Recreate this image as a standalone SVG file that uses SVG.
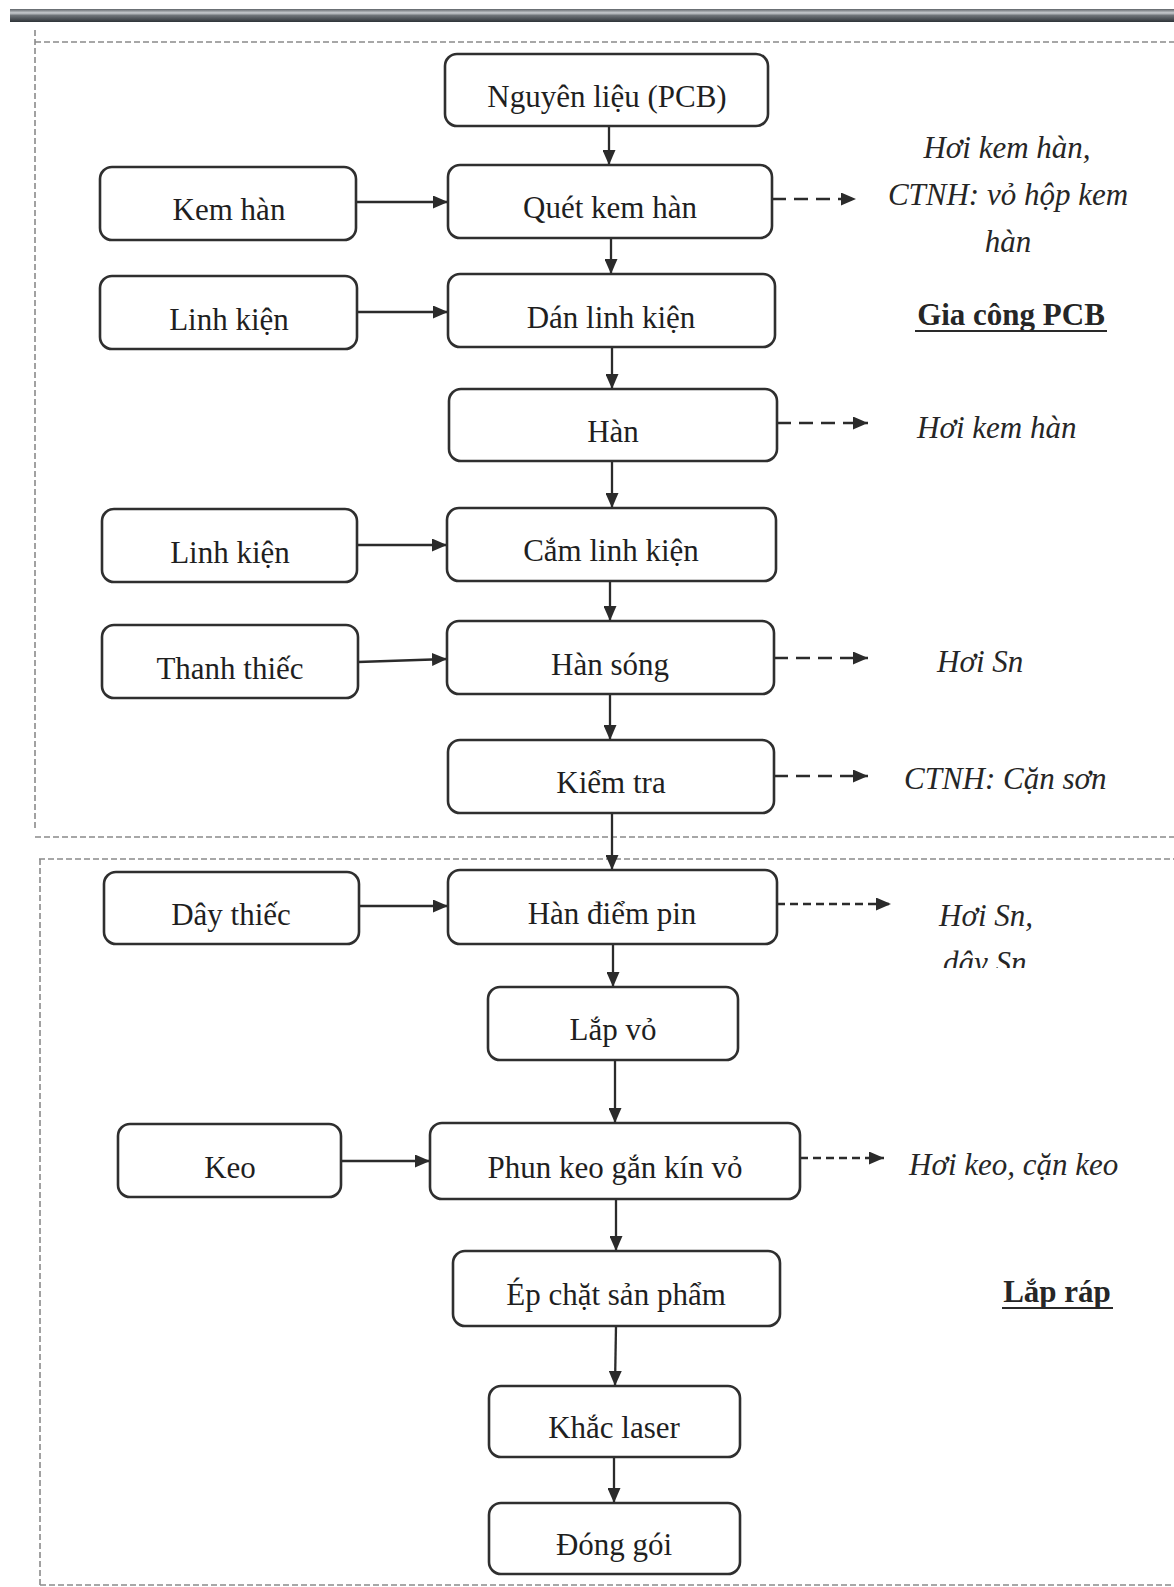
<svg xmlns="http://www.w3.org/2000/svg" width="1174" height="1587" viewBox="0 0 1174 1587">
  <defs>
    <linearGradient id="barGrad" x1="0" y1="0" x2="0" y2="1">
      <stop offset="0" stop-color="#5d6267"/>
      <stop offset="0.3" stop-color="#c9ccd0"/>
      <stop offset="0.5" stop-color="#6e7378"/>
      <stop offset="1" stop-color="#2e3338"/>
    </linearGradient>
    <marker id="arr" viewBox="0 0 15 13" refX="15" refY="6.5" markerWidth="15" markerHeight="13" markerUnits="userSpaceOnUse" orient="auto">
      <path d="M0,0 L15,6.5 L0,13 Z" fill="#2b2b2b"/>
    </marker>
    <clipPath id="clipNote">
      <rect x="900" y="880" width="200" height="88"/>
    </clipPath>
  </defs>
  <style>
    .box { fill: #ffffff; stroke: #2f2f2f; stroke-width: 2.6; }
    .lbl { font-family: "Liberation Serif", "Times New Roman", serif; font-size: 31px; fill: #1f1f1f; text-anchor: middle; }
    .note { font-family: "Liberation Serif", "Times New Roman", serif; font-size: 31px; font-style: italic; fill: #262626; }
    .head { font-family: "Liberation Serif", "Times New Roman", serif; font-size: 31px; font-weight: bold; fill: #262626; text-anchor: middle; }
    .flow { stroke: #2b2b2b; stroke-width: 2.3; fill: none; marker-end: url(#arr); }
    .waste { stroke: #2b2b2b; stroke-width: 2.4; fill: none; marker-end: url(#arr); }
    .frame { stroke: #8a8a8a; stroke-width: 1.6; stroke-dasharray: 6 3; fill: none; }
  </style>

  <rect width="1174" height="1587" fill="#ffffff"/>

  <!-- page header bar -->
  <rect x="10" y="9" width="1164" height="13" fill="url(#barGrad)"/>

  <!-- section frames -->
  <g id="frames">
    <line class="frame" x1="35" y1="42" x2="1174" y2="42"/>
    <line class="frame" x1="35" y1="30" x2="35" y2="830"/>
    <line class="frame" x1="35" y1="837" x2="1174" y2="837"/>
    <line class="frame" x1="39" y1="859" x2="1174" y2="859"/>
    <line class="frame" x1="40" y1="859" x2="40" y2="1587"/>
    <line class="frame" x1="40" y1="1585" x2="1174" y2="1585" stroke="#b5b5b5"/>
  </g>

  <!-- connectors -->
  <g id="connectors">
    <!-- main flow -->
    <line class="flow" x1="609" y1="126" x2="609" y2="165"/>
    <line class="flow" x1="611" y1="238" x2="611" y2="274"/>
    <line class="flow" x1="612" y1="347" x2="612" y2="389"/>
    <line class="flow" x1="612" y1="461" x2="612" y2="508"/>
    <line class="flow" x1="610" y1="581" x2="610" y2="621"/>
    <line class="flow" x1="610" y1="694" x2="610" y2="740"/>
    <line class="flow" x1="612" y1="813" x2="612" y2="870"/>
    <line class="flow" x1="613" y1="944" x2="613" y2="987"/>
    <line class="flow" x1="615" y1="1060" x2="615" y2="1123"/>
    <line class="flow" x1="616" y1="1199" x2="616" y2="1251"/>
    <line class="flow" x1="616" y1="1326" x2="615" y2="1386"/>
    <line class="flow" x1="614" y1="1457" x2="614" y2="1503"/>
    <!-- material inputs -->
    <line class="flow" x1="356" y1="202" x2="448" y2="202"/>
    <line class="flow" x1="357" y1="312" x2="448" y2="312"/>
    <line class="flow" x1="357" y1="545" x2="447" y2="545"/>
    <line class="flow" x1="358" y1="662" x2="447" y2="659"/>
    <line class="flow" x1="359" y1="906" x2="448" y2="906"/>
    <line class="flow" x1="341" y1="1161" x2="430" y2="1161"/>
    <!-- emissions -->
    <line class="waste" x1="772" y1="199" x2="856" y2="199" stroke-dasharray="14 8"/>
    <line class="waste" x1="777" y1="423" x2="868" y2="423" stroke-dasharray="14 8"/>
    <line class="waste" x1="774" y1="658" x2="868" y2="658" stroke-dasharray="14 8"/>
    <line class="waste" x1="774" y1="776" x2="868" y2="776" stroke-dasharray="14 8"/>
    <line class="waste" x1="777" y1="904" x2="891" y2="904" stroke-dasharray="8 5"/>
    <line class="waste" x1="800" y1="1158" x2="884" y2="1158" stroke-dasharray="8 5"/>
  </g>

  <!-- process steps -->
  <g id="n-nguyen-lieu"><rect class="box" x="445" y="54" width="323" height="72" rx="12"/><text class="lbl" x="607" y="107">Nguyên liệu (PCB)</text></g>
  <g id="n-quet-kem"><rect class="box" x="448" y="165" width="324" height="73" rx="12"/><text class="lbl" x="610" y="218">Quét kem hàn</text></g>
  <g id="n-dan-linh-kien"><rect class="box" x="448" y="274" width="327" height="73" rx="12"/><text class="lbl" x="611" y="328">Dán linh kiện</text></g>
  <g id="n-han"><rect class="box" x="449" y="389" width="328" height="72" rx="12"/><text class="lbl" x="613" y="442">Hàn</text></g>
  <g id="n-cam-linh-kien"><rect class="box" x="447" y="508" width="329" height="73" rx="12"/><text class="lbl" x="611" y="561">Cắm linh kiện</text></g>
  <g id="n-han-song"><rect class="box" x="447" y="621" width="327" height="73" rx="12"/><text class="lbl" x="610" y="675">Hàn sóng</text></g>
  <g id="n-kiem-tra"><rect class="box" x="448" y="740" width="326" height="73" rx="12"/><text class="lbl" x="611" y="793">Kiểm tra</text></g>
  <g id="n-han-diem-pin"><rect class="box" x="448" y="870" width="329" height="74" rx="12"/><text class="lbl" x="612" y="924">Hàn điểm pin</text></g>
  <g id="n-lap-vo"><rect class="box" x="488" y="987" width="250" height="73" rx="12"/><text class="lbl" x="613" y="1040">Lắp vỏ</text></g>
  <g id="n-phun-keo"><rect class="box" x="430" y="1123" width="370" height="76" rx="12"/><text class="lbl" x="615" y="1178">Phun keo gắn kín vỏ</text></g>
  <g id="n-ep-chat"><rect class="box" x="453" y="1251" width="327" height="75" rx="12"/><text class="lbl" x="616" y="1305">Ép chặt sản phẩm</text></g>
  <g id="n-khac-laser"><rect class="box" x="489" y="1386" width="251" height="71" rx="12"/><text class="lbl" x="614" y="1438">Khắc laser</text></g>
  <g id="n-dong-goi"><rect class="box" x="489" y="1503" width="251" height="71" rx="12"/><text class="lbl" x="614" y="1555">Đóng gói</text></g>

  <!-- material inputs -->
  <g id="i-kem-han"><rect class="box" x="100" y="167" width="256" height="73" rx="12"/><text class="lbl" x="229" y="220">Kem hàn</text></g>
  <g id="i-linh-kien-1"><rect class="box" x="100" y="276" width="257" height="73" rx="12"/><text class="lbl" x="229" y="330">Linh kiện</text></g>
  <g id="i-linh-kien-2"><rect class="box" x="102" y="509" width="255" height="73" rx="12"/><text class="lbl" x="230" y="563">Linh kiện</text></g>
  <g id="i-thanh-thiec"><rect class="box" x="102" y="625" width="256" height="73" rx="12"/><text class="lbl" x="230" y="679">Thanh thiếc</text></g>
  <g id="i-day-thiec"><rect class="box" x="104" y="872" width="255" height="72" rx="12"/><text class="lbl" x="231" y="925">Dây thiếc</text></g>
  <g id="i-keo"><rect class="box" x="118" y="1124" width="223" height="73" rx="12"/><text class="lbl" x="230" y="1178">Keo</text></g>

  <!-- emissions and section titles -->
  <g id="e-quet-kem">
    <text class="note" x="1007" y="158" text-anchor="middle">Hơi kem hàn,</text>
    <text class="note" x="1008" y="205" text-anchor="middle">CTNH: vỏ hộp kem</text>
    <text class="note" x="1008" y="252" text-anchor="middle">hàn</text>
  </g>
  <g id="t-gia-cong">
    <text class="head" x="1011" y="325">Gia công PCB</text>
    <line x1="915" y1="331" x2="1107" y2="331" stroke="#2a2a2a" stroke-width="2.2"/>
  </g>
  <g id="e-han"><text class="note" x="917" y="438">Hơi kem hàn</text></g>
  <g id="e-han-song"><text class="note" x="937" y="672">Hơi Sn</text></g>
  <g id="e-kiem-tra"><text class="note" x="904" y="789">CTNH: Cặn sơn</text></g>
  <g id="e-han-diem-pin" clip-path="url(#clipNote)">
    <text class="note" x="939" y="926">Hơi Sn,</text>
    <text class="note" x="943" y="973">dây Sn</text>
  </g>
  <g id="e-phun-keo"><text class="note" x="909" y="1175">Hơi keo, cặn keo</text></g>
  <g id="t-lap-rap">
    <text class="head" x="1057" y="1302">Lắp ráp</text>
    <line x1="1002" y1="1308" x2="1113" y2="1308" stroke="#2a2a2a" stroke-width="2.2"/>
  </g>
</svg>
